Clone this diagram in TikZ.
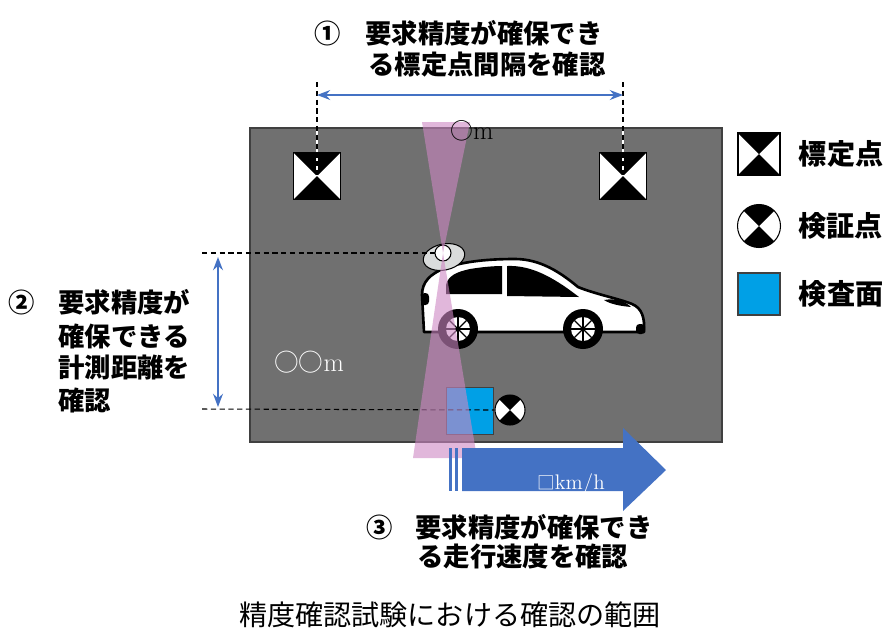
\documentclass[tikz,border=0pt]{standalone}
\usepackage{fontspec}
\newfontfamily\jp{Noto Sans CJK JP}
\usetikzlibrary{
    positioning,
    arrows.meta,
    calc
}
\definecolor{groundGray}{RGB}{112, 112, 112}
\definecolor{edgeGray}{RGB}{64, 64, 64}
\definecolor{arrowBlue}{RGB}{68, 114, 196}
\definecolor{panelBlue}{RGB}{0, 160, 230}
\definecolor{beamPink}{RGB}{205, 135, 195}
\definecolor{sensorGray}{RGB}{218, 220, 220}

\tikzset{
    hourglass/.style={draw=black, fill=white, line width=0.6pt, inner sep=0pt,
        path picture={
            \fill[black] (path picture bounding box.center) -- (path picture bounding box.north west) -- (path picture bounding box.north east) -- cycle;
            \fill[black] (path picture bounding box.center) -- (path picture bounding box.south west) -- (path picture bounding box.south east) -- cycle;
        }},
    calmark/.style={hourglass, rectangle, minimum size=#1},
    checkmark/.style={hourglass, circle, minimum size=#1},
    panel/.style={rectangle, draw=edgeGray, line width=0.6pt, fill=panelBlue, inner sep=0pt, minimum size=#1},
    lbl/.style={font=\jp\bfseries\fontsize{15pt}{18pt}\selectfont, inner sep=0pt, anchor=west},
    num/.style={font=\jp\bfseries\fontsize{15pt}{18pt}\selectfont, inner sep=0pt},
    leg/.style={font=\jp\bfseries\fontsize{16pt}{18pt}\selectfont, inner sep=0pt, anchor=west},
    guide/.style={black, line width=0.6pt, dash pattern=on 3pt off 2pt},
    dim/.style={<->, arrowBlue, line width=1pt},
    beam/.style={fill=beamPink, fill opacity=0.6},
    tire/.style={circle, fill=black, inner sep=0pt, minimum size=8mm},
    rim/.style={circle, fill=white, inner sep=0pt, minimum size=4.8mm},
    spoke/.style={black, line width=0.7pt}
}

\begin{document}
\begin{tikzpicture}[x=0.2mm, y=-0.2mm, >=Stealth]
    \useasboundingbox (0,0) rectangle (890,628);

    % ground
    \draw[edgeGray, fill=groundGray, line width=0.6pt] (250,128) rectangle (722,442);

    \node[calmark=9.4mm] (calL) at (317,176) {};
    \node[calmark=9.4mm] (calR) at (623,176) {};
    \node[panel=9.4mm] (face) at (470,411) {};
    \node[checkmark=6mm] (chk) at (510,410) {};

    % car
    \draw[black, fill=white, line width=1.5pt, line join=round]
        (424,332) -- (422,295)
        .. controls (422,282) and (430,274) .. (445,268)
        .. controls (465,261) and (490,259) .. (515,259)
        .. controls (540,259) and (560,272) .. (578,287)
        .. controls (595,294) and (620,299) .. (632,304)
        .. controls (642,308) and (645,318) .. (644,332)
        -- cycle;
    \fill[black] (446,294) -- (446,285) .. controls (448,276) and (456,272) .. (470,269)
        .. controls (482,267) and (494,266) .. (502,266) -- (502,294) -- cycle;
    \fill[black] (507,266) .. controls (530,265) and (552,276) .. (579,297) -- (507,296) -- cycle;
    \fill[black] (604,300) .. controls (615,298) and (625,301) .. (631,307)
        .. controls (620,306) and (610,304) .. cycle;
    \fill[black, rounded corners=2pt] (421,293) rectangle (429,305);
    \fill[black, rounded corners=2pt] (636,324) rectangle (645,334);
    \node[tire] (rw) at (458,329) {};
    \node[tire] (fw) at (583,329) {};
    \foreach \w in {rw, fw} {
        \node[rim] (\w Rim) at (\w) {};
        \foreach \a/\b in {0/180, 45/225, 90/270, 135/315}
            \draw[spoke] (\w Rim.\a) -- (\w Rim.\b);
    }

    % sensor
    \coordinate (lidarC) at (443,253);
    \draw[black, fill=sensorGray, line width=0.6pt, rotate around={12:(444,257)}]
        (444,257) ellipse [x radius=21, y radius=13];
    \coordinate (hiL) at (202,253);
    \draw[guide] (hiL) -- (lidarC);
    \node[circle, draw=black, fill=white, line width=0.6pt, minimum size=3.2mm, inner sep=0pt] (lidar) at (lidarC) {};

    \coordinate (loL) at (202,409);
    \draw[guide] (loL) -- (chk.west);

    % beam
    \coordinate (beamTL) at (422,122);
    \coordinate (beamTR) at (470,122);
    \coordinate (beamBL) at (413,458);
    \coordinate (beamBR) at (477,458);
    \fill[beam] (beamTL) -- (beamTR) -- (lidar.center) -- cycle;
    \fill[beam] (lidar.center) -- (beamBR) -- (beamBL) -- cycle;

    % range
    \coordinate (topL) at (317,82);
    \coordinate (topR) at (623,82);
    \draw[white, line width=0.6pt] (topL) -- (calL.center) (topR) -- (calR.center);
    \draw[guide] (topL) -- (calL.center) (topR) -- (calR.center);
    \coordinate (dimL) at (317,95);
    \coordinate (dimR) at (623,95);
    \draw[dim] (dimL) -- (dimR);
    \coordinate (dimT) at (218,257);
    \coordinate (dimB) at (218,407);
    \draw[dim] (dimT) -- (dimB);

    % speed arrow
    \fill[arrowBlue] (449,448) rectangle (452,491);
    \fill[arrowBlue] (455,448) rectangle (458,491);
    \fill[arrowBlue] (462,448) -- (623,448) -- (623,428) -- (666,470) -- (623,511) -- (623,491) -- (462,491) -- cycle;

    \node[inner sep=0pt, anchor=west] (gapTop) at (450,131) {{\jp\fontsize{13pt}{14pt}\selectfont ○}\fontsize{15pt}{16pt}\selectfont m};
    \node[inner sep=0pt, anchor=west, white] (gapSide) at (274,362) {{\jp\fontsize{14pt}{14pt}\selectfont ○○}\fontsize{15pt}{16pt}\selectfont m};
    \node[inner sep=0pt, white] (speed) at (571,484) {{\jp\fontsize{10pt}{12pt}\selectfont □}\fontsize{12pt}{14pt}\selectfont km/h};

    % labels
    \node[num] (num1) at (328,33) {①};
    \node[lbl] (t1a) at (365,33) {要求精度が確保でき};
    \node[lbl] (t1b) at (368,65) {る標定点間隔を確認};
    \node[num] (num2) at (22,302) {②};
    \node[lbl] (t2a) at (58,302) {要求精度が};
    \node[lbl] (t2b) at (58,336) {確保できる};
    \node[lbl] (t2c) at (58,368) {計測距離を};
    \node[lbl] (t2d) at (58,400) {確認};
    \node[num] (num3) at (380,527) {③};
    \node[lbl] (t3a) at (415,527) {要求精度が確保でき};
    \node[lbl] (t3b) at (417,557) {る走行速度を確認};

    % legend
    \node[calmark=8.4mm] (legCal) at (759,154) {};
    \node[checkmark=8.6mm] (legChk) at (759,226) {};
    \node[panel=8.4mm] (legFace) at (759,294) {};
    \node[leg, right=3.6mm of legCal] (legCalTxt) {標定点};
    \node[leg, right=3.4mm of legChk] (legChkTxt) {検証点};
    \node[leg, right=3.6mm of legFace] (legFaceTxt) {検査面};

    \node[font=\jp\fontsize{16pt}{18pt}\selectfont, inner sep=0pt] (caption) at (450,615) {精度確認試験における確認の範囲};
\end{tikzpicture}
\end{document}
